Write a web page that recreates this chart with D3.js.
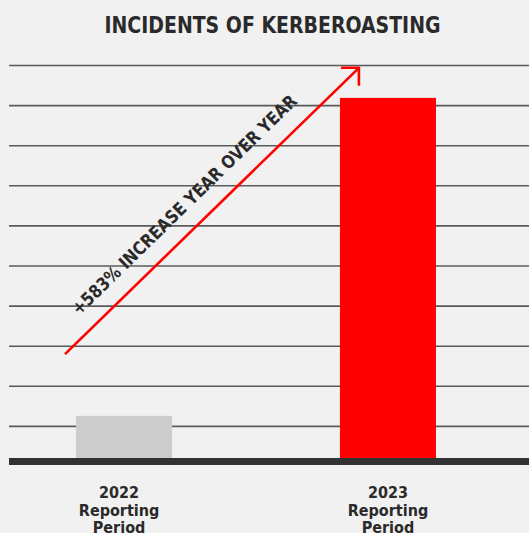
<!DOCTYPE html>
<html><head><meta charset="utf-8">
<script src="https://cdn.jsdelivr.net/npm/d3@7"></script>
<style>
html,body{margin:0;padding:0;background:#f1f1f1;}
svg{display:block;}
</style></head>
<body>
<script>
const categories = ["2022", "2023"];
const values = [1.25, 9.18];
const labelLines = [["2022","Reporting","Period"],["2023","Reporting","Period"]];
const gridTicks = [1,2,3,4,5,6,7,8,9,10];
const title = "INCIDENTS OF KERBEROASTING";
const annotation = "+583% INCREASE YEAR OVER YEAR";

const W = 529, H = 533;
const svg = d3.select("body").append("svg").attr("width", W).attr("height", H);
svg.append("rect").attr("width", W).attr("height", H).attr("fill", "#f1f1f1");

const x = d3.scaleBand().domain(categories).range([9, 503]).paddingInner(0.636).paddingOuter(0.254);
const y = d3.scaleLinear().domain([0, 10]).range([466, 65]);
const textCol = "#2b2a2b";
const font = "'DejaVu Sans Condensed','DejaVu Sans',sans-serif";

// title
svg.append("text").attr("x", 272.5).attr("y", 32.5).attr("text-anchor", "middle")
  .attr("font-family", font).attr("font-weight", "bold").attr("font-size", 23)
  .attr("fill", textCol).attr("textLength", 336).attr("lengthAdjust", "spacingAndGlyphs")
  .text(title);

// gridlines
const grid = svg.append("g").attr("transform", "translate(9,0)")
  .call(d3.axisLeft(y).tickValues(gridTicks).tickSize(-(W - 9)).tickFormat(""));
grid.select(".domain").remove();
grid.selectAll(".tick line").attr("stroke", "#5a5a5a").attr("stroke-width", 1.6);

// bars
const colors = ["#cccccc", "#ff0000"];
const base = y(0) - 4;
svg.append("g").selectAll("rect").data(values).join("rect")
  .attr("x", (d, i) => x(categories[i]))
  .attr("width", x.bandwidth())
  .attr("y", d => y(d))
  .attr("height", d => base - y(d))
  .attr("fill", (d, i) => colors[i]);

// baseline
svg.append("rect").attr("x", 9).attr("width", W - 9)
  .attr("y", y(0) - 8).attr("height", 7).attr("fill", "#333232");

// x labels
const lab = svg.append("g").selectAll("text").data(labelLines).join("text")
  .attr("text-anchor", "middle")
  .attr("font-family", font).attr("font-weight", "bold").attr("font-size", 16)
  .attr("fill", textCol);
lab.each(function(lines, i) {
  const t = d3.select(this);
  const cx = x(categories[i]) + x.bandwidth() / 2 - (i === 0 ? 5 : 0);
  lines.forEach((s, k) => {
    t.append("tspan").attr("x", cx).attr("y", 498 + k * 17.5).text(s);
  });
});

// arrow annotation
const x0 = x("2022") - 11, y0 = y(2.79);
const x1 = x("2023") + 19, y1 = y(9.93);
const ar = svg.append("g").attr("stroke", "#ff0000").attr("stroke-width", 2.6).attr("fill", "none");
ar.append("line").attr("x1", x0).attr("y1", y0).attr("x2", x1).attr("y2", y1);
ar.append("path").attr("d", `M${x1 - 18},${y1} L${x1},${y1} L${x1},${y1 + 18}`);

const ang = Math.atan2(y1 - y0, x1 - x0) * 180 / Math.PI;
svg.append("text")
  .attr("transform", `translate(79,316) rotate(${ang})`)
  .attr("font-family", font).attr("font-weight", "bold").attr("font-size", 18)
  .attr("fill", textCol).attr("textLength", 306).attr("lengthAdjust", "spacingAndGlyphs")
  .text(annotation);
</script>
</body></html>
